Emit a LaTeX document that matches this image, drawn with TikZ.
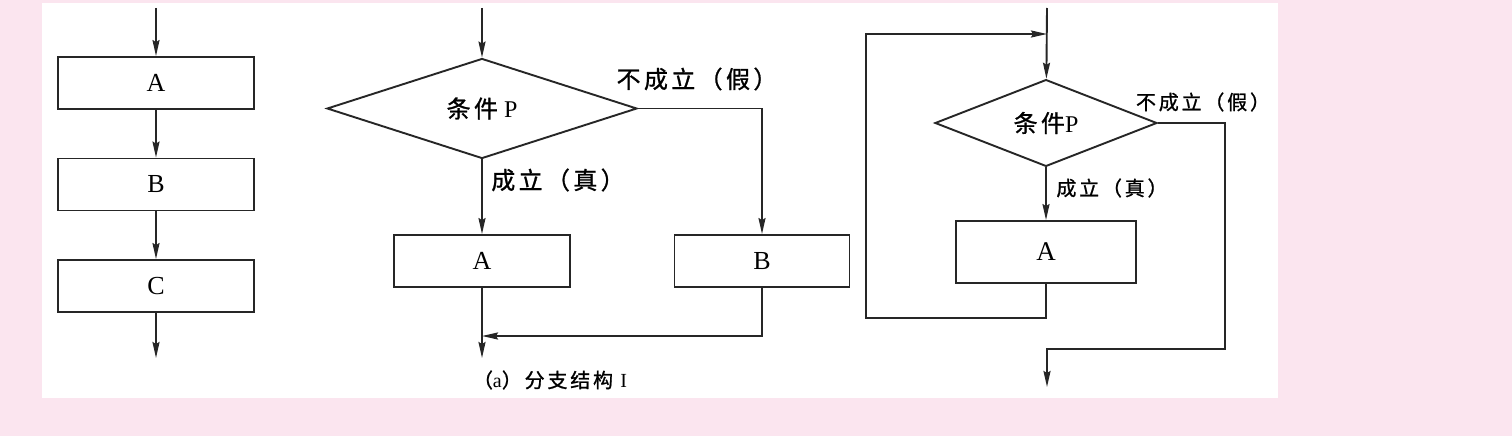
\documentclass[tikz,border=0pt]{standalone}
\usepackage{fontspec}
\setmainfont{Liberation Serif}
\newfontfamily\cjk[LetterSpace=14,FakeBold=1]{Noto Sans CJK SC}
\usetikzlibrary{shapes,positioning,calc,arrows.meta}
\definecolor{bgpink}{RGB}{251,229,239}
\begin{document}
\begin{tikzpicture}[
    x=1pt,y=-1pt,
    node distance=101.5pt,
    >={Stealth[length=16pt,width=7pt,inset=2pt]},
    line width=1.9pt, draw=black!85,
    proc/.style={rectangle,draw,minimum width=196pt,minimum height=52pt,inner sep=0pt,font=\fontsize{26}{30}\selectfont},
    cond/.style={diamond,draw,minimum width=310pt,minimum height=100pt,inner sep=0pt,font=\fontsize{24}{28}\selectfont},
    lbl/.style={inner sep=0pt,font=\cjk\fontsize{24}{28}\selectfont},
    slbl/.style={inner sep=0pt,font=\cjk\fontsize{20}{24}\selectfont}
    ]
    % background
    \fill[bgpink] (0,0) rectangle (1512,436);
    \fill[white] (42,3) rectangle (1278,398);

    % sequence
    \coordinate (s0) at (156,8);
    \node [proc](A) at (156,83) {A};
    \node [proc](B) [below of=A] {B};
    \node [proc](C) [below of=B] {C};
    \coordinate (e0) at (156,358);
    \draw [->] (s0) -- (A);
    \draw [->] (A) -- (B);
    \draw [->] (B) -- (C);
    \draw [->] (C) -- (e0);

    % branch
    \coordinate (s1) at (482,8);
    \node [cond](P1) at (482,108.5) {{\cjk 条件} P};
    \node [proc,minimum width=176pt](A1) [below of=P1,node distance=152.5pt] {A};
    \node [proc,minimum width=175pt](B1) [right of=A1,node distance=280pt] {B};
    \coordinate (m1) at (482,336);
    \coordinate (e1) at (482,358);
    \node [lbl](t1) at (558,180) {成立（真）};
    \node [lbl](f1) at (697,79) {不成立（假）};
    \node [slbl](cap) at (550,380) {（{\rmfamily a}）分支结构 {\rmfamily I}};
    \draw [->] (s1) -- (P1);
    \draw [->] (P1) -- (A1);
    \draw [->] (P1.east) -| (B1);
    \draw [->] (A1) -- (e1);
    \draw [->] (B1) |- (m1);

    % loop
    \coordinate (s2) at (1047,8);
    \coordinate (j2) at (1047,34);
    \node [cond,minimum width=222pt,minimum height=86pt](P2) at (1046,123) {{\cjk 条件}P};
    \node [proc,minimum width=180pt,minimum height=62pt,font=\fontsize{27}{30}\selectfont](A2) at (1046,252) {A};
    \coordinate (l2) at (866,318);
    \coordinate (r2) at (1225,349);
    \coordinate (e2) at (1047,387);
    \node [slbl](t2) at (1112,188) {成立（真）};
    \node [slbl](f2) at (1203,102) {不成立（假）};
    \draw [->] (s2) -- (P2);
    \draw [->] (P2) -- (A2);
    \draw [->] (A2) |- (l2) |- (j2);
    \draw [->] (P2.east) -| (r2) -| (e2);
\end{tikzpicture}
\end{document}
